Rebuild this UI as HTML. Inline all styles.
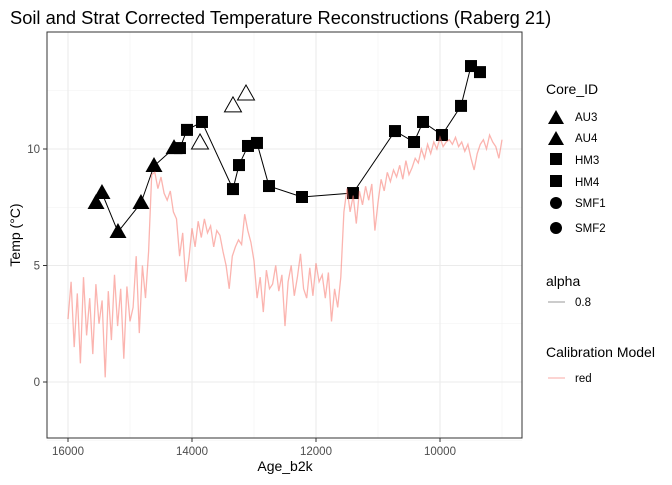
<!DOCTYPE html>
<html><head><meta charset="utf-8"><style>
body{margin:0;background:#fff;font-family:"Liberation Sans",sans-serif}
</style></head><body>
<svg id="c" width="672" height="480" xmlns="http://www.w3.org/2000/svg" font-family="Liberation Sans, sans-serif">
<rect width="672" height="480" fill="#fff"/>
<text x="10" y="24" font-size="18.3" fill="#000">Soil and Strat Corrected Temperature Reconstructions (Raberg 21)</text>
<g id="grid"></g>
<g id="red"></g>
<g id="marks"></g>
<rect x="47" y="32" width="475" height="406" fill="none" stroke="#333" stroke-width="1"/>
<g id="axes"></g>
<text x="285" y="471" font-size="14" text-anchor="middle">Age_b2k</text>
<text transform="translate(20,235) rotate(-90)" font-size="14" text-anchor="middle">Temp (°C)</text>
<g>
<text x="546" y="94" font-size="14">Core_ID</text>
<polygon points="556,110 548,124 564,124" fill="#000"/><text x="575" y="121" font-size="11.5">AU3</text>
<polygon points="556,131 548,145 564,145" fill="#000"/><text x="575" y="142" font-size="11.5">AU4</text>
<rect x="550" y="153" width="12" height="12" fill="#000"/><text x="575" y="164" font-size="11.5">HM3</text>
<rect x="550" y="175" width="12" height="12" fill="#000"/><text x="575" y="186" font-size="11.5">HM4</text>
<circle cx="556" cy="203" r="6" fill="#000"/><text x="575" y="207" font-size="11.5">SMF1</text>
<circle cx="556" cy="228" r="6" fill="#000"/><text x="575" y="232" font-size="11.5">SMF2</text>
<text x="546" y="286" font-size="14">alpha</text>
<line x1="548" y1="302" x2="565" y2="302" stroke="#333" stroke-width="0.6"/><text x="575" y="306" font-size="11.5">0.8</text>
<text x="546" y="357" font-size="14">Calibration Model</text>
<line x1="548" y1="378" x2="565" y2="378" stroke="#f8a9a4" stroke-width="1"/><text x="575" y="382" font-size="11.5">red</text>
</g>
</svg>
<script>
const redStart = 16000, redStep = 50;
const redTemps = [2.7,4.3,1.5,3.8,0.8,4.5,2.0,3.6,1.2,4.2,2.5,3.5,0.2,3.9,1.8,4.6,2.4,4.0,1.0,4.1,2.6,
3.2,5.4,2.1,5.0,3.6,5.6,
8.9,9.0,8.3,8.8,8.1,7.8,8.2,7.3,
7.0,5.4,6.4,4.3,5.3,6.6,5.8,6.9,
6.2,7.0,6.4,6.7,5.8,6.5,6.3,
5.6,5.0,4.0,5.4,5.8,
6.1,5.9,7.2,6.5,6.0,5.2,
3.6,4.5,3.0,4.8,4.0,4.2,
5.0,3.9,4.6,2.4,4.3,5.0,3.7,4.5,
5.5,4.0,3.6,4.9,3.7,5.1,4.3,4.6,
3.6,4.7,2.6,4.0,3.2,
4.5,7.3,8.3,
7.3,8.0,6.8,8.2,7.6,8.4,
7.8,8.5,6.5,7.7,8.7,8.2,9.0,8.6,
9.1,8.8,9.3,8.7,9.5,8.9,9.2,9.6,
9.4,10.0,9.6,10.2,9.8,10.3,10.0,10.5,10.1,10.3,
10.4,10.2,10.5,10.1,10.3,9.9,10.2,9.6,9.1,9.8,10.2,10.4,
10.0,10.6,10.3,10.1,9.6,10.4];
const triAges = [15548,15452,15194,14823,14613,14290];
const triTemps = [7.68,8.11,6.44,7.68,9.27,10.04];
const sqAges = [14194,14081,13839,13339,13242,13097,12952,12758,12226,11403,10726,10419,10274,9968,9661,9500,9355];
const sqTemps = [10.04,10.82,11.16,8.28,9.31,10.13,10.26,8.41,7.94,8.11,10.77,10.30,11.16,10.60,11.85,13.56,13.30];
const openAges = [13871,13339,13129];
const openTemps = [10.26,11.85,12.36];
const xTicks = [16000,14000,12000,10000];
const xMinor = [15000,13000,11000,9000];
const yTicks = [0,5,10];
const yMinor = [-2.5,2.5,7.5,12.5];

const NS='http://www.w3.org/2000/svg';
const X = a => 68 + (16000 - a) * 124 / 2000;
const Y = t => 382 - t * 23.3;
function mk(tag, attrs, parent){const e=document.createElementNS(NS,tag);for(const k in attrs)e.setAttribute(k,attrs[k]);parent.appendChild(e);return e;}
const grid=document.getElementById('grid'), axes=document.getElementById('axes');
mk('rect',{x:47,y:32,width:475,height:406,fill:'#fff'},grid);
xMinor.forEach(v=>{const l=mk('line',{x1:X(v),x2:X(v),y1:32,y2:438,stroke:'#f2f2f2','stroke-width':0.6},grid);

});
yMinor.forEach(v=>{const l=mk('line',{x1:47,x2:522,y1:Y(v),y2:Y(v),stroke:'#f2f2f2','stroke-width':0.6},grid);

});
xTicks.forEach(v=>{const l=mk('line',{x1:X(v),x2:X(v),y1:32,y2:438,stroke:'#ebebeb','stroke-width':1.1},grid);


mk('line',{x1:X(v),x2:X(v),y1:438,y2:442,stroke:'#333'},axes);
const t=mk('text',{x:X(v),y:455,'font-size':11.5,fill:'#4d4d4d','text-anchor':'middle'},axes);t.textContent=v;

});
yTicks.forEach(v=>{const l=mk('line',{x1:47,x2:522,y1:Y(v),y2:Y(v),stroke:'#ebebeb','stroke-width':1.1},grid);


mk('line',{x1:43,x2:47,y1:Y(v),y2:Y(v),stroke:'#333'},axes);
const t=mk('text',{x:40,y:Y(v)+4,'font-size':11.5,fill:'#4d4d4d','text-anchor':'end'},axes);t.textContent=v;

});

const marks=document.getElementById('marks');
const pts=triAges.map((a,i)=>[a,triTemps[i]]).concat(sqAges.map((a,i)=>[a,sqTemps[i]])).sort((p,q)=>q[0]-p[0]);
const ln=mk('polyline',{points:pts.map(p=>X(p[0])+','+Y(p[1])).join(' '),fill:'none',stroke:'#000','stroke-width':1},marks);


function tri(cx,cy){return `${cx},${cy-9} ${cx-8.5},${cy+6} ${cx+8.5},${cy+6}`;}
triAges.forEach((a,i)=>{const p=mk('polygon',{points:tri(X(a),Y(triTemps[i])),fill:'#000'},marks);

});
openAges.forEach((a,i)=>{const p=mk('polygon',{points:tri(X(a),Y(openTemps[i])),fill:'#fff',stroke:'#000','stroke-width':1},marks);

});
sqAges.forEach((a,i)=>{const p=mk('rect',{x:X(a)-6,y:Y(sqTemps[i])-6,width:12,height:12,fill:'#000'},marks);

});

const red=document.getElementById('red');
const rl=mk('polyline',{points:redTemps.map((t,i)=>X(redStart-i*redStep)+','+Y(t)).join(' '),fill:'none',stroke:'#f8766d','stroke-opacity':0.55,'stroke-width':1.3},red);


marks.parentNode.insertBefore(marks, red);
</script>
</body></html>
